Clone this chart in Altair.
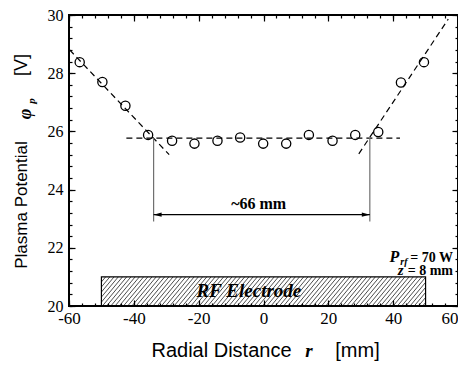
import altair as alt
import pandas as pd

# ---- data ----
r_mm = [-56.7, -49.7, -42.6, -35.6, -28.2, -21.3, -14.2, -7.2, -0.1, 7.0, 14.0, 21.3, 28.3, 35.4, 42.4, 49.5]
phi_v = [28.38, 27.70, 26.88, 25.88, 25.68, 25.58, 25.68, 25.79, 25.58, 25.58, 25.88, 25.68, 25.88, 25.98, 27.68, 28.38]

fit_seg = ["left", "left", "flat", "flat", "right", "right"]
fit_r = [-59.8, -29.1, -42.3, 42.1, 29.4, 57.0]
fit_phi = [28.80, 25.20, 25.77, 25.77, 25.23, 29.86]

guide_r = [-33.9, 32.8]
guide_top = [25.77, 25.77]
guide_bottom = [22.9, 22.9]
arrow_phi = 23.14

electrode_r = [-50.0, 50.0]
electrode_phi = [20.0, 21.0]

x_major = [-60, -40, -20, 0, 20, 40, 60]
y_major = [20, 22, 24, 26, 28, 30]
x_minor = [round(-60 + 4 * i, 1) for i in range(31)]
y_minor = [round(20 + 0.4 * i, 1) for i in range(26)]

XDOM = [-60, 60]
YDOM = [20, 30]
SERIF = "Liberation Serif"
SANS = "Liberation Sans"

def xs(axis=None, field="r"):
    return alt.X(f"{field}:Q", scale=alt.Scale(domain=XDOM, nice=False, zero=False), axis=axis)

def ys(axis=None, field="phi"):
    return alt.Y(f"{field}:Q", scale=alt.Scale(domain=YDOM, nice=False, zero=False), axis=axis)

def ax(orient, values, size, labels):
    kw = dict(orient=orient, values=values, tickSize=size, offset=-size, domain=False, grid=False,
              tickColor="black", tickWidth=1.2, title=None, labels=labels)
    if labels:
        kw.update(labelFont=SERIF, labelFontSize=17 if orient == "bottom" else 16,
                  labelColor="black", labelFlush=False,
                  labelOverlap=False, labelExpr="'' + datum.value",
                  labelPadding=4 if orient == "bottom" else 6)
        if orient == "bottom":
            kw["labelAlign"] = {"condition": {"test": "datum.value == 60", "value": "right"},
                                "value": "center"}
    return alt.Axis(**kw)

# hatch lines inside the electrode box
hatch_dx = 7.5
hatch_step = 1.3
hx1, hy1, hx2, hy2 = [], [], [], []
x0 = electrode_r[0] - hatch_dx
while x0 < electrode_r[1]:
    a_x, a_y = x0, electrode_phi[0]
    b_x, b_y = x0 + hatch_dx, electrode_phi[1]
    if a_x < electrode_r[0]:
        a_y = electrode_phi[0] + (electrode_r[0] - x0) / hatch_dx
        a_x = electrode_r[0]
    if b_x > electrode_r[1]:
        b_y = electrode_phi[0] + (electrode_r[1] - x0) / hatch_dx
        b_x = electrode_r[1]
    hx1.append(a_x); hy1.append(a_y); hx2.append(b_x); hy2.append(b_y)
    x0 += hatch_step
hatch_df = pd.DataFrame({"r": hx1, "phi": hy1, "r2": hx2, "phi2": hy2})

hatch = alt.Chart(hatch_df).mark_rule(color="black", strokeWidth=0.7).encode(
    x=xs(ax("bottom", x_minor, 3, False)), y=ys(ax("left", y_minor, 3, False)),
    x2="r2:Q", y2="phi2:Q")

elec_df = pd.DataFrame({"r": [electrode_r[0]], "r2": [electrode_r[1]],
                        "phi": [electrode_phi[0]], "phi2": [electrode_phi[1]]})
elec = alt.Chart(elec_df).mark_rect(fillOpacity=0, stroke="black", strokeWidth=1.2).encode(
    x=xs(), x2="r2:Q", y=ys(), y2="phi2:Q")

elec_txt = alt.Chart(pd.DataFrame({"r": [-4.5], "phi": [20.30], "t": ["RF Electrode"]})).mark_text(
    font=SERIF, fontSize=19, fontWeight="bold", fontStyle="italic", color="black",
    align="center", baseline="alphabetic").encode(x=xs(), y=ys(), text="t:N")

fit_df = pd.DataFrame({"seg": fit_seg, "r": fit_r, "phi": fit_phi})
fits = alt.Chart(fit_df).mark_line(color="black", strokeWidth=1.2, strokeDash=[6, 4]).encode(
    x=xs(ax("top", x_major, 6, False)), y=ys(ax("right", y_major, 6, False)), detail="seg:N")

guide_df = pd.DataFrame({"r": guide_r, "phi": guide_top, "phi2": guide_bottom})
guides = alt.Chart(guide_df).mark_rule(color="#707070", strokeWidth=1.2).encode(
    x=xs(ax("top", x_minor, 3, False)), y=ys(ax("right", y_minor, 3, False)), y2="phi2:Q")

arrow_df = pd.DataFrame({"r": [guide_r[0]], "r2": [guide_r[1]], "phi": [arrow_phi]})
arrow = alt.Chart(arrow_df).mark_rule(color="black", strokeWidth=1.2).encode(
    x=xs(), x2="r2:Q", y=ys())
head_l = alt.Chart(pd.DataFrame({"r": [guide_r[0]], "phi": [arrow_phi]})).mark_point(
    shape="M0,0L2,-0.55L2,0.55Z", size=64, filled=True, color="black", opacity=1).encode(x=xs(), y=ys())
head_r = alt.Chart(pd.DataFrame({"r": [guide_r[1]], "phi": [arrow_phi]})).mark_point(
    shape="M0,0L-2,-0.55L-2,0.55Z", size=64, filled=True, color="black", opacity=1).encode(x=xs(), y=ys())

pts_df = pd.DataFrame({"r": r_mm, "phi": phi_v})
pts = alt.Chart(pts_df).mark_point(shape="circle", size=85, filled=False, color="black",
                                   strokeWidth=1.3, opacity=1).encode(
    x=xs(ax("bottom", x_major, 6, True)), y=ys(ax("left", y_major, 6, True)))

def dtext(r, phi, t, size=14, style="normal", weight="bold", align="left", baseline="alphabetic"):
    return alt.Chart(pd.DataFrame({"r": [r], "phi": [phi], "t": [t]})).mark_text(
        font=SERIF, fontSize=size, fontWeight=weight, fontStyle=style, color="black",
        align=align, baseline=baseline).encode(x=xs(), y=ys(), text="t:N")

width_txt = dtext(-1.5, 23.49, "~66 mm", size=16, align="center", baseline="middle")
prf_P = dtext(38.9, 21.50, "P", size=16, style="italic")
prf_rf = dtext(42.2, 21.41, "rf", size=10, style="italic")
prf_val = dtext(58.46, 21.50, "= 70 W", size=14, align="right")
z_z = dtext(41.4, 21.05, "z", size=15, style="italic")
z_val = dtext(58.46, 21.05, "= 8 mm", size=14, align="right")

# axis titles built from text pieces (pixel positions relative to the plot area)
def ptext(px, py, t, font, size, angle=0, style="normal", weight="normal", baseline="alphabetic"):
    return alt.Chart(pd.DataFrame({"t": [t]})).mark_text(
        font=font, fontSize=size, fontStyle=style, fontWeight=weight, angle=angle,
        align="center", baseline=baseline, color="black").encode(
        x=alt.value(px), y=alt.value(py), text="t:N")

xt1 = ptext(152.5, 342, "Radial Distance", SANS, 20)
xt2 = ptext(240, 342, "r", SERIF, 19, style="italic", weight="bold")
xt3 = ptext(288.5, 342, "[mm]", SANS, 20)
yt1 = ptext(-42.3, 190, "Plasma Potential", SANS, 17, angle=270)
yt2 = ptext(-38, 99, "φ", SERIF, 18, angle=270, style="italic", weight="bold")
yt3 = ptext(-34, 86, "p", SERIF, 11, angle=270, style="italic", weight="bold")
yt4 = ptext(-42.3, 50, "[V]", SANS, 18, angle=270)

chart = alt.layer(
    hatch, elec, elec_txt, fits, guides, arrow, head_l, head_r, pts,
    width_txt, prf_P, prf_rf, prf_val, z_z, z_val,
    xt1, xt2, xt3, yt1, yt2, yt3, yt4,
).resolve_axis(x="independent", y="independent").properties(
    width=389, height=291,
    autosize=alt.AutoSizeParams(type="none"),
    padding={"left": 61, "top": 7, "right": 0, "bottom": 55},
).configure_view(stroke="black", strokeWidth=2).configure_axis(
    labelFont=SERIF, labelColor="black", labelFlush=False
)

chart.save("out.html", embed_options={"renderer": "svg", "actions": False})
